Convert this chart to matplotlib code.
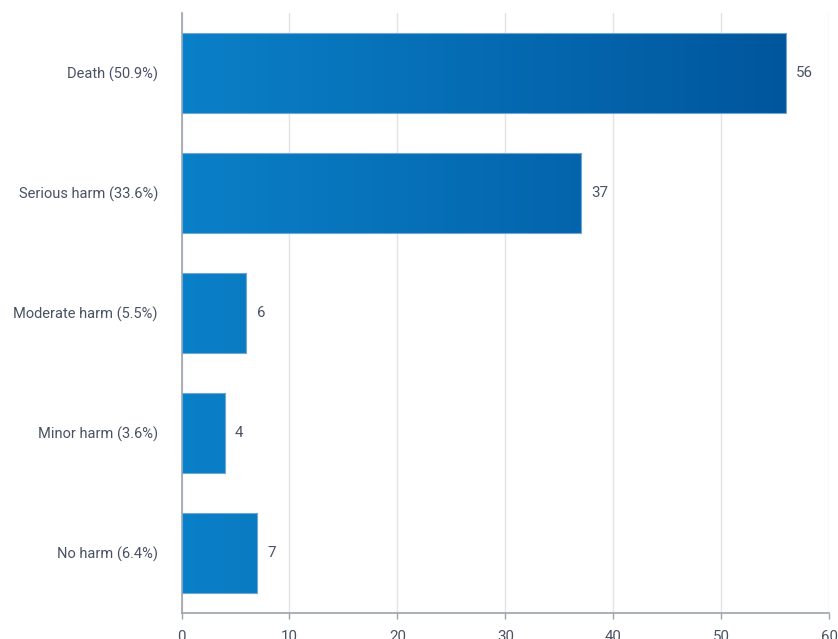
import numpy as np
import matplotlib.pyplot as plt
from matplotlib.colors import LinearSegmentedColormap

categories = ['Death (50.9%)', 'Serious harm (33.6%)', 'Moderate harm (5.5%)',
              'Minor harm (3.6%)', 'No harm (6.4%)']
counts = [56, 37, 6, 4, 7]
xticks = [0, 10, 20, 30, 40, 50, 60]

plt.rcParams['font.family'] = ['Roboto', 'DejaVu Sans']
text_color = '#495164'
axis_color = '#9da3ad'

fig = plt.figure(figsize=(8.38, 6.39), dpi=100)
ax = fig.add_axes([181.5 / 838, 26 / 639, (829 - 181.5) / 838, 600 / 639])

y = np.arange(len(categories))
bars = ax.barh(y, counts, height=0.665, color='none', edgecolor='#6fa6d6',
               linewidth=0.8, zorder=3)

# horizontal gradient across the value axis, clipped to each bar
cmap = LinearSegmentedColormap.from_list('bl', ['#0a80c8', '#00539a'])
grad = np.linspace(0, 1, 256).reshape(1, -1)
for b in bars:
    im = ax.imshow(grad, cmap=cmap, aspect='auto', extent=[0, 60, -0.5, 4.5],
                   origin='lower', zorder=2)
    im.set_clip_path(b)

for yi, c in zip(y, counts):
    ax.annotate(str(c), (c, yi), xytext=(7.5, 0), textcoords='offset points',
                va='center', ha='left', fontsize=10.8, color=text_color)

ax.set_xlim(0, 60)
ax.set_ylim(len(categories) - 0.5, -0.5)
ax.set_xticks(xticks)
ax.set_yticks(y)
ax.set_yticklabels(categories)
ax.xaxis.grid(True, color='#e3e3e6', linewidth=1, zorder=0)
ax.set_axisbelow(True)

for s in ['top', 'right']:
    ax.spines[s].set_visible(False)
for s in ['left', 'bottom']:
    ax.spines[s].set_color(axis_color)
    ax.spines[s].set_linewidth(1.2)

ax.tick_params(axis='y', length=0, pad=17, labelsize=10.5, labelcolor=text_color)
ax.tick_params(axis='x', length=4, width=1, color=axis_color, pad=8,
               labelsize=10.8, labelcolor=text_color)

fig.savefig('out.png', dpi=100)
